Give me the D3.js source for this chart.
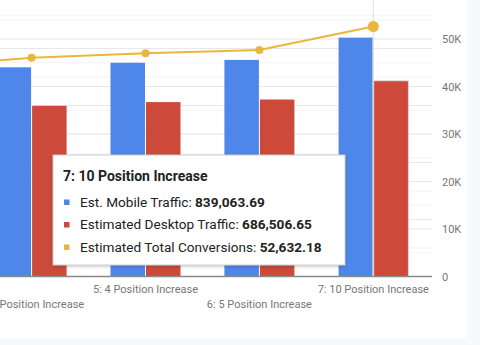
<!DOCTYPE html>
<html>
<head>
<meta charset="utf-8">
<script src="https://cdn.jsdelivr.net/npm/d3@7"></script>
<style>
  html, body { margin: 0; padding: 0; background: #f8f9fa; }
  svg { display: block; font-family: Roboto, "Noto Sans", sans-serif; }
</style>
</head>
<body>
<svg id="chart" width="480" height="345"></svg>
<script>
// ---- data ----
const categories = ["3: 2 Position Increase", "4: 3 Position Increase", "5: 4 Position Increase", "6: 5 Position Increase", "7: 10 Position Increase"];
const seriesNames = ["Est. Mobile Traffic", "Estimated Desktop Traffic", "Estimated Total Conversions"];
const mobileTraffic = [718000, 734000, 750000, 760000, 839063.69];
const desktopTraffic = [588000, 599000, 612000, 621000, 686506.65];
const totalConversions = [44200, 46050, 46980, 47680, 52632.18];
const rightTicks = [0, 10000, 20000, 30000, 40000, 50000];
const rightTickLabels = ["0", "10K", "20K", "30K", "40K", "50K"];
const leftTicks = [0, 200000, 400000, 600000, 800000];
const hoverIndex = 4;
const firstLabelled = 1; // labels of earlier categories fall outside the view

const colors = ["#4f86ea", "#cd4a3b", "#ebb63c"];

const svg = d3.select("#chart");
// white card
svg.append("rect").attr("x", 0).attr("y", 0).attr("width", 467).attr("height", 338).attr("fill", "#ffffff");

const plotLeft = -139.25, plotRight = 430.25, plotTop = -8.5, plotBottom = 276.5;

const x0 = d3.scaleBand().domain(categories).range([plotLeft, plotRight]).padding(0);
const x1 = d3.scaleBand().domain(["mobile", "desktop"]).range([0, 70]).padding(0);
const yLeft = d3.scaleLinear().domain([0, 1000000]).range([plotBottom, plotTop]);
const yRight = d3.scaleLinear().domain([0, 60000]).range([plotBottom, plotTop]);

const grid = svg.append("g");
// minor gridlines
const minorRight = d3.range(5000, 60000, 10000);
const minorLeft = d3.range(100000, 1000000, 200000);
minorRight.forEach(v => grid.append("line").attr("x1", 0).attr("x2", 432).attr("y1", yRight(v)).attr("y2", yRight(v)).attr("stroke", "#f3f3f3"));
minorLeft.forEach(v => grid.append("line").attr("x1", 0).attr("x2", 432).attr("y1", yLeft(v)).attr("y2", yLeft(v)).attr("stroke", "#f3f3f3"));
// major gridlines
rightTicks.slice(1).forEach(v => grid.append("line").attr("x1", 0).attr("x2", 432).attr("y1", yRight(v)).attr("y2", yRight(v)).attr("stroke", "#e8e8e8"));
leftTicks.slice(1).forEach(v => grid.append("line").attr("x1", 0).attr("x2", 432).attr("y1", yLeft(v)).attr("y2", yLeft(v)).attr("stroke", "#e8e8e8"));

// hover vertical line
const hx = x0(categories[hoverIndex]) + x0.bandwidth() / 2;
svg.append("line").attr("x1", hx).attr("x2", hx).attr("y1", 0).attr("y2", plotBottom).attr("stroke", "#e0e0e0");

// bars
const groups = svg.append("g").selectAll("g").data(categories).join("g")
  .attr("transform", c => `translate(${x0(c) + x0.bandwidth() / 2 - 35},0)`);
groups.each(function (c, i) {
  const g = d3.select(this);
  const vals = [["mobile", mobileTraffic[i], colors[0]], ["desktop", desktopTraffic[i], colors[1]]];
  vals.forEach(([k, v, col]) => {
    g.append("rect")
      .attr("x", x1(k) + (k === "desktop" ? 0.5 : 0))
      .attr("width", x1.bandwidth() - 0.5)
      .attr("y", yLeft(v))
      .attr("height", plotBottom - yLeft(v))
      .attr("fill", col)
      .attr("stroke", i === hoverIndex ? "#d8d8d8" : "none")
      .attr("stroke-width", i === hoverIndex ? 0.8 : 0);
  });
});

// line
const line = d3.line()
  .x((d, i) => x0(categories[i]) + x0.bandwidth() / 2)
  .y(d => yRight(d));
svg.append("path").datum(totalConversions).attr("d", line)
  .attr("fill", "none").attr("stroke", colors[2]).attr("stroke-width", 2);
svg.append("g").selectAll("circle").data(totalConversions).join("circle")
  .attr("cx", (d, i) => x0(categories[i]) + x0.bandwidth() / 2)
  .attr("cy", d => yRight(d))
  .attr("r", (d, i) => i === hoverIndex ? 5.5 : 4)
  .attr("fill", colors[2]);

// x axis baseline
svg.append("line").attr("x1", 0).attr("x2", 432).attr("y1", plotBottom).attr("y2", plotBottom)
  .attr("stroke", "#8a8a8a").attr("stroke-width", 1.3);

// category labels (two staggered rows)
const labelled = categories.slice(firstLabelled);
svg.append("g").selectAll("text").data(labelled).join("text")
  .attr("x", c => x0(c) + x0.bandwidth() / 2)
  .attr("y", c => (categories.length - 1 - categories.indexOf(c)) % 2 === 0 ? 293 : 307.5)
  .attr("text-anchor", "middle")
  .attr("font-size", 11)
  .attr("fill", "#777777")
  .text(c => c);

// right axis
const rAxis = svg.append("g");
rightTicks.forEach((v, i) => {
  rAxis.append("text").attr("x", 442).attr("y", yRight(v) + 4)
    .attr("font-size", 11).attr("fill", "#777777").text(rightTickLabels[i]);
});

// tooltip
const defs = svg.append("defs");
const f = defs.append("filter").attr("id", "sh").attr("x", "-10%").attr("y", "-10%").attr("width", "120%").attr("height", "130%");
f.append("feDropShadow").attr("dx", 0).attr("dy", 1).attr("stdDeviation", 1.5).attr("flood-color", "#000").attr("flood-opacity", 0.25);
const tt = svg.append("g").attr("transform", "translate(53,155)");
tt.append("rect").attr("width", 292).attr("height", 110).attr("fill", "#fff")
  .attr("stroke", "#cccccc").attr("stroke-width", 1).attr("filter", "url(#sh)");
tt.append("text").attr("x", 10).attr("y", 26).attr("font-size", 14).attr("font-weight", "bold")
  .attr("fill", "#222").text(categories[hoverIndex]);
const fmt = d3.format(",.2f");
const rowVals = [mobileTraffic[hoverIndex], desktopTraffic[hoverIndex], totalConversions[hoverIndex]];
seriesNames.forEach((name, i) => {
  const yb = 51.5 + i * 22.5;
  tt.append("rect").attr("x", 11).attr("y", yb - 7).attr("width", 5.5).attr("height", 5.5).attr("fill", colors[i]);
  const t = tt.append("text").attr("x", 27).attr("y", yb).attr("font-size", 13.6).attr("fill", "#222");
  t.append("tspan").text(name + ": ");
  t.append("tspan").attr("font-weight", "bold").text(fmt(rowVals[i]));
});
</script>
</body>
</html>
